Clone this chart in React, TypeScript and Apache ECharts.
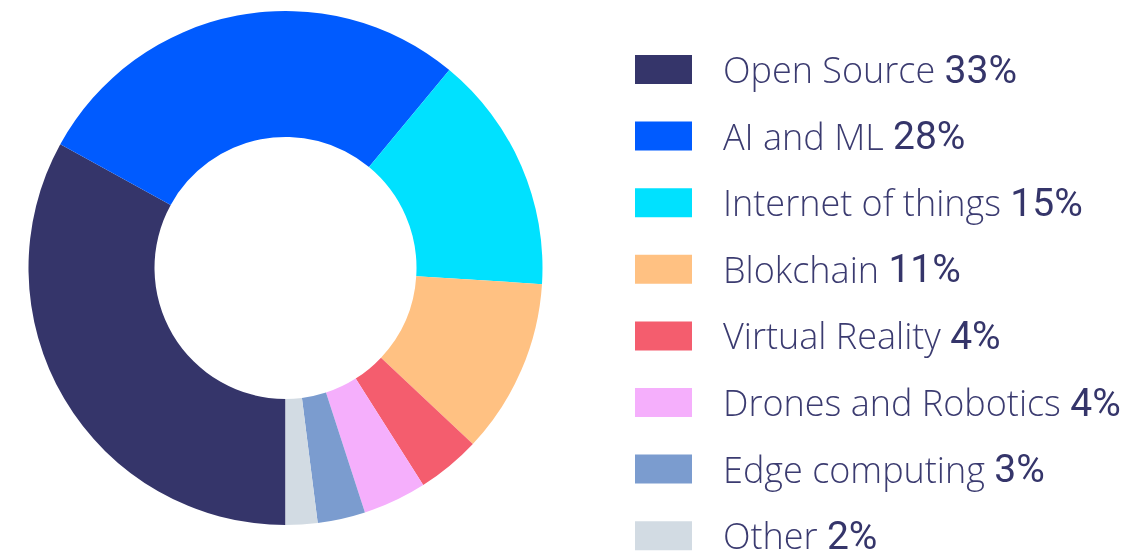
import React, { useEffect, useRef } from "react";
import * as echarts from "echarts";

const categories = [
  "Open Source",
  "AI and ML",
  "Internet of things",
  "Blokchain",
  "Virtual Reality",
  "Drones and Robotics",
  "Edge computing",
  "Other",
];
const values = [33, 28, 15, 11, 4, 4, 3, 2];
const colors = [
  "#35356a",
  "#005bff",
  "#00e1ff",
  "#ffc182",
  "#f45d6e",
  "#f5affc",
  "#7b9ccf",
  "#d2dbe3",
];

export default function App() {
  const ref = useRef<HTMLDivElement>(null);
  useEffect(() => {
    if (!ref.current) return;
    const chart = echarts.init(ref.current, undefined, { renderer: "svg" });
    const valueOf: Record<string, number> = {};
    categories.forEach((c, i) => (valueOf[c] = values[i]));
    chart.setOption({
      animation: false,
      color: colors,
      legend: {
        orient: "vertical",
        left: 635,
        top: 50,
        padding: 0,
        itemWidth: 57,
        itemHeight: 29,
        itemGap: 27.6,
        icon: "rect",
        selectedMode: false,
        data: categories,
        formatter: (name: string) => `{n|${name} }{p|${valueOf[name]}%}`,
        textStyle: {
          padding: [0, 0, 0, 26],
          rich: {
            n: {
              fontFamily: "Open Sans",
              fontWeight: 300,
              fontSize: 36,
              color: "#3b3b70",
              lineHeight: 40,
            },
            p: {
              fontFamily: "Roboto",
              fontWeight: 400,
              fontSize: 39,
              color: "#35356a",
              lineHeight: 40,
            },
          },
        },
      },
      series: [
        {
          type: "pie",
          center: [285.5, 268],
          radius: [131, 257],
          startAngle: -90,
          clockwise: true,
          label: { show: false },
          labelLine: { show: false },
          emphasis: { disabled: true },
          data: categories.map((c, i) => ({ name: c, value: values[i] })),
        },
      ],
    });
    return () => chart.dispose();
  }, []);
  return (
    <div
      ref={ref}
      style={{ position: "fixed", left: 0, top: 0, width: 1148, height: 620 }}
    />
  );
}
